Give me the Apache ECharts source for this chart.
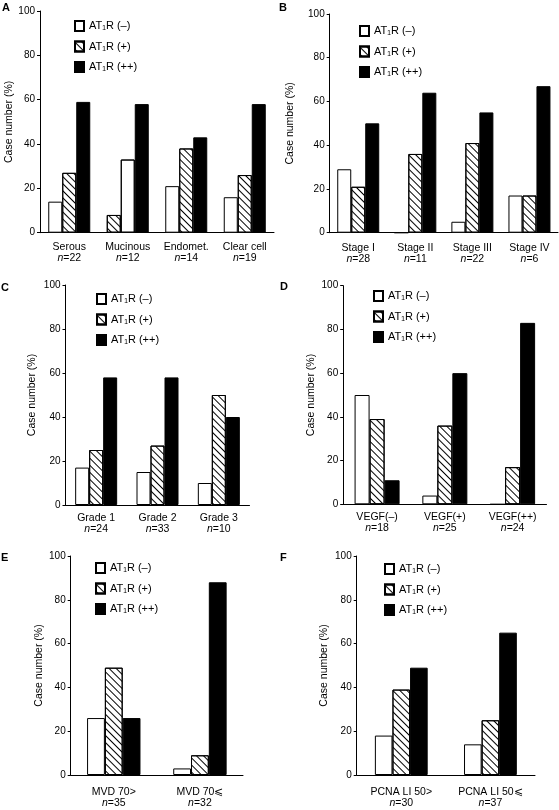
<!DOCTYPE html>
<html><head><meta charset="utf-8">
<script src="https://cdn.jsdelivr.net/npm/echarts@6/dist/echarts.min.js"></script>
<style>html,body{margin:0;padding:0;background:#fff}#c{width:559px;height:810px}</style>
</head><body><div id="c"></div>
<script>
// ---- data ----
const seriesNames = ['AT₁R (–)', 'AT₁R (+)', 'AT₁R (++)'];
const panelLetters = ['A', 'B', 'C', 'D', 'E', 'F'];
const yMin = 0, yMax = 100, yStep = 20;

const catsA = ['Serous', 'Mucinous', 'Endomet.', 'Clear cell'];
const nA = [22, 12, 14, 19];
const negA = [14, 33, 21, 16];
const posA = [27, 8, 38, 26];
const ppA = [59, 58, 43, 58];
const swappedA = ['Mucinous']; // drawn with (+) bar left of (–) bar in the figure

const catsB = ['Stage I', 'Stage II', 'Stage III', 'Stage IV'];
const nB = [28, 11, 22, 6];
const negB = [29, 0, 5, 17];
const posB = [21, 36, 41, 17];
const ppB = [50, 64, 55, 67];

const catsC = ['Grade 1', 'Grade 2', 'Grade 3'];
const nC = [24, 33, 10];
const negC = [17, 15, 10];
const posC = [25, 27, 50];
const ppC = [58, 58, 40];

const catsD = ['VEGF(–)', 'VEGF(+)', 'VEGF(++)'];
const nD = [18, 25, 24];
const negD = [50, 4, 0];
const posD = [39, 36, 17];
const ppD = [11, 60, 83];

const catsE = ['MVD 70>', 'MVD 70⩽'];
const nE = [35, 32];
const negE = [26, 3];
const posE = [49, 9];
const ppE = [26, 88];

const catsF = ['PCNA LI 50>', 'PCNA LI 50⩽'];
const nF = [30, 37];
const negF = [18, 14];
const posF = [39, 25];
const ppF = [49, 65];

const panels = [
  { cats: catsA, n: nA, vals: [negA, posA, ppA], swap: swappedA },
  { cats: catsB, n: nB, vals: [negB, posB, ppB], swap: [] },
  { cats: catsC, n: nC, vals: [negC, posC, ppC], swap: [] },
  { cats: catsD, n: nD, vals: [negD, posD, ppD], swap: [] },
  { cats: catsE, n: nE, vals: [negE, posE, ppE], swap: [] },
  { cats: catsF, n: nF, vals: [negF, posF, ppF], swap: [] }
];

// ---- layout ----
const layout = [
  { grid: [40, 11, 234, 221.7], barW: 14, lblM: 8.5, nameGap: 25, legend: [74, 20], letter: [2, 2] },
  { grid: [329.7, 14, 228.3, 218.7], barW: 14, lblM: 9.5, nameGap: 34, legend: [359, 25], letter: [279, 2] },
  { grid: [65.5, 285, 184, 220], barW: 14, lblM: 7.3, nameGap: 28, legend: [96, 293], letter: [1, 282] },
  { grid: [343.2, 285.7, 203.3, 218.6], barW: 15, lblM: 7, nameGap: 27, legend: [373, 290], letter: [280, 281.5] },
  { grid: [70.7, 556, 172.3, 219], barW: 17.8, lblM: 11, nameGap: 26, legend: [95, 562], letter: [1, 552] },
  { grid: [356.7, 556, 178.3, 219], barW: 17.6, lblM: 11, nameGap: 27, legend: [384, 563], letter: [280, 552] }
];

const FONT = '"Liberation Sans", Arial, Helvetica, sans-serif';
const hatch = { symbol: 'rect', symbolSize: 1, color: '#000', dashArrayX: [1, 0], dashArrayY: [0.9, 3.2], rotation: Math.PI / 4 };
const noHatch = { symbol: 'rect', symbolSize: 1, color: 'rgba(0,0,0,0)', dashArrayX: [1, 0], dashArrayY: [0.9, 3.2] };
const slotStyles = [
  { color: '#fff', borderColor: '#000', borderWidth: 1 },
  { color: '#fff', borderColor: '#000', borderWidth: 1, decal: hatch },
  { color: '#000', borderColor: '#000', borderWidth: 1 }
];
const swapStyles = [
  { color: '#fff', borderColor: '#000', borderWidth: 1, decal: hatch },
  { color: '#fff', borderColor: '#000', borderWidth: 1, decal: noHatch }
];

const grids = [], xAxes = [], yAxes = [], series = [], legends = [], titles = [];
panels.forEach((p, i) => {
  const L = layout[i];
  grids.push({ left: L.grid[0], top: L.grid[1], width: L.grid[2], height: L.grid[3], containLabel: false });
  xAxes.push({
    type: 'category', gridIndex: i, data: p.cats,
    axisLine: { lineStyle: { color: '#000', width: 1 } },
    axisTick: { show: false },
    axisLabel: {
      margin: L.lblM, color: '#000', fontSize: 10.5, fontFamily: FONT, lineHeight: 11.5, interval: 0,
      formatter: (v, idx) => v + '\n{i|n}{t|=' + p.n[idx] + '}',
      rich: {
        i: { fontStyle: 'italic', fontSize: 10.5, fontFamily: FONT, color: '#000', lineHeight: 11.5 },
        t: { fontSize: 10.5, fontFamily: FONT, color: '#000', lineHeight: 11.5 }
      }
    }
  });
  yAxes.push({
    type: 'value', gridIndex: i, min: yMin, max: yMax, interval: yStep,
    name: 'Case number (%)', nameLocation: 'middle', nameGap: L.nameGap,
    nameTextStyle: { color: '#000', fontSize: 10.5, fontFamily: FONT },
    axisLine: { show: true, lineStyle: { color: '#000', width: 1 } },
    axisTick: { show: true, length: 3, lineStyle: { color: '#000' } },
    axisLabel: { margin: 5, color: '#000', fontSize: 10, fontFamily: FONT },
    splitLine: { show: false }
  });
  for (let s = 0; s < 3; s++) {
    const data = p.cats.map((c, k) => {
      if (p.swap.indexOf(c) >= 0 && s < 2) {
        const other = 1 - s;
        return { value: p.vals[other][k], itemStyle: swapStyles[s] };
      }
      return p.vals[s][k];
    });
    series.push({
      type: 'bar', name: seriesNames[s], xAxisIndex: i, yAxisIndex: i,
      data: data, barWidth: L.barW, barGap: '0%', itemStyle: slotStyles[s],
      animation: false, emphasis: { disabled: true }, silent: true
    });
  }
  legends.push({
    data: seriesNames, orient: 'vertical', left: L.legend[0], top: L.legend[1], padding: 0,
    itemWidth: 9, itemHeight: 10, itemGap: 8.5, icon: 'rect', selectedMode: false,
    textStyle: { color: '#000', fontSize: 11, fontFamily: FONT }
  });
  titles.push({
    text: panelLetters[i], left: L.letter[0], top: L.letter[1], padding: 0,
    textStyle: { color: '#000', fontSize: 11, fontWeight: 'bold', fontFamily: FONT }
  });
});

const chart = echarts.init(document.getElementById('c'), null, { renderer: 'canvas' });
chart.setOption({
  backgroundColor: '#fff', animation: false,
  title: titles, grid: grids, xAxis: xAxes, yAxis: yAxes, legend: legends, series: series
});
</script></body></html>
